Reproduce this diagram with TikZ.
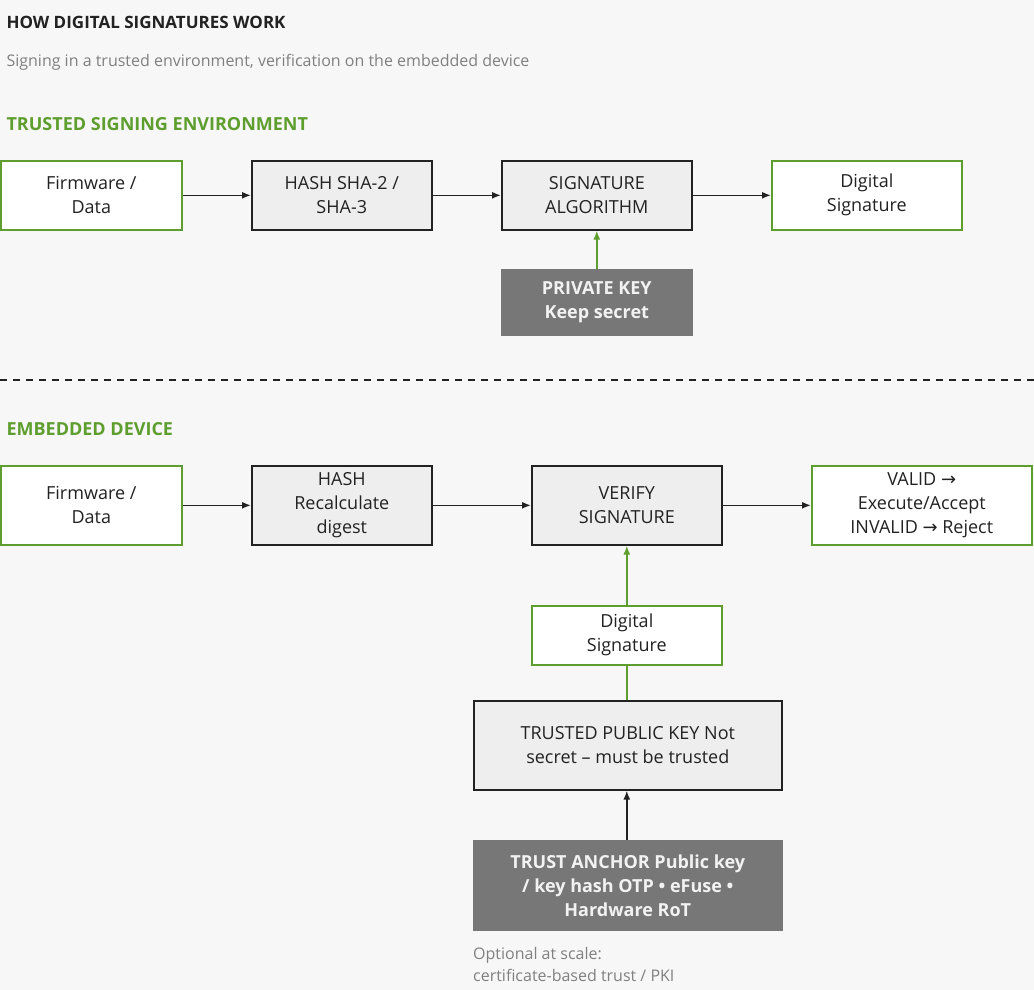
\documentclass[tikz,border=0pt]{standalone}
\usepackage{fontspec}
\setmainfont{Open Sans}
\newfontfamily\arr{DejaVu Sans}
\usetikzlibrary{arrows.meta}
\definecolor{grn}{HTML}{5E9E2E}
\definecolor{bg}{HTML}{F7F7F7}
\definecolor{lg}{HTML}{EEEEEE}
\definecolor{dg}{HTML}{777777}
\definecolor{tx}{HTML}{222222}
\tikzset{x=1pt,y=-1pt,
 base/.style={draw,line width=1.6pt,align=center,font=\fontsize{18}{24}\selectfont,text=tx,inner sep=0pt,anchor=north west},
 gb/.style={base,draw=grn,fill=white},
 hb/.style={base,draw=tx,fill=lg},
 kb/.style={base,draw=dg,fill=dg,text=white!90!gray,font=\fontsize{18}{24}\selectfont\bfseries},
 ar/.style={-{Latex[length=9pt,width=7pt]},line width=1.6pt,draw=tx},
 gar/.style={ar,draw=grn}}
\begin{document}
\begin{tikzpicture}
\useasboundingbox[fill=bg] (0,0) rectangle (1034,990);
\node[anchor=west,font=\fontsize{17}{20}\selectfont\bfseries,text=tx] (t) at (3,22) {HOW DIGITAL SIGNATURES WORK};
\node[anchor=west,font=\fontsize{16}{20}\selectfont,text=gray] (s) at (3,62) {Signing in a trusted environment, verification on the embedded device};
\node[anchor=west,font=\fontsize{18}{20}\selectfont\bfseries,text=grn] (h1) at (3,124) {TRUSTED SIGNING ENVIRONMENT};
\node[anchor=west,font=\fontsize{18}{20}\selectfont\bfseries,text=grn] (h2) at (3,429) {EMBEDDED DEVICE};
% row 1
\node[gb,minimum width=181,minimum height=69] (f1) at (0,160) {Firmware /\\Data};
\node[hb,minimum width=180,minimum height=69] (h1b) at (251,160) {HASH SHA-2 /\\SHA-3};
\node[hb,minimum width=190,minimum height=69] (sa) at (501,160) {SIGNATURE\\ALGORITHM};
\node[gb,minimum width=190,minimum height=69] (ds1) at (771,160) {Digital\\Signature};
\node[kb,minimum width=190,minimum height=65] (pk) at (501,269) {PRIVATE KEY\\Keep secret};
\draw[ar] (f1) -- (h1b); \draw[ar] (h1b) -- (sa); \draw[ar] (sa) -- (ds1);
\draw[gar] (pk) -- (sa);
\draw[line width=1.8pt,dash pattern=on 7pt off 6pt,draw=tx] (0,380) -- (1034,380);
% row 2
\node[gb,minimum width=181,minimum height=79] (f2) at (0,465) {Firmware /\\Data};
\node[hb,minimum width=180,minimum height=79] (h2b) at (251,465) {HASH\\Recalculate\\digest};
\node[hb,minimum width=190,minimum height=79] (vs) at (531,465) {VERIFY\\SIGNATURE};
\node[gb,minimum width=220,minimum height=79] (vd) at (811,465) {VALID {\arr →}\\Execute/Accept\\INVALID {\arr →} Reject};
\node[gb,minimum width=190,minimum height=59] (ds2) at (531,605) {Digital\\Signature};
\node[hb,minimum width=308,minimum height=89] (tp) at (473,700) {TRUSTED PUBLIC KEY Not\\secret – must be trusted};
\node[kb,minimum width=308,minimum height=89] (ta) at (473,840) {TRUST ANCHOR Public key\\/ key hash OTP • eFuse •\\Hardware RoT};
\node[anchor=north west,align=left,font=\fontsize{16}{22}\selectfont,text=gray,inner sep=0pt] (op) at (473,947) {Optional at scale:\\certificate-based trust / PKI};
\draw[ar] (f2) -- (h2b); \draw[ar] (h2b) -- (vs); \draw[ar] (vs) -- (vd);
\draw[gar] (ds2) -- (vs);
\draw[line width=1.6pt,draw=grn] (tp.north -| ds2.south) -- (ds2.south);
\draw[ar] (ta.north -| ds2.south) -- (tp.south -| ds2.south);
\end{tikzpicture}
\end{document}
